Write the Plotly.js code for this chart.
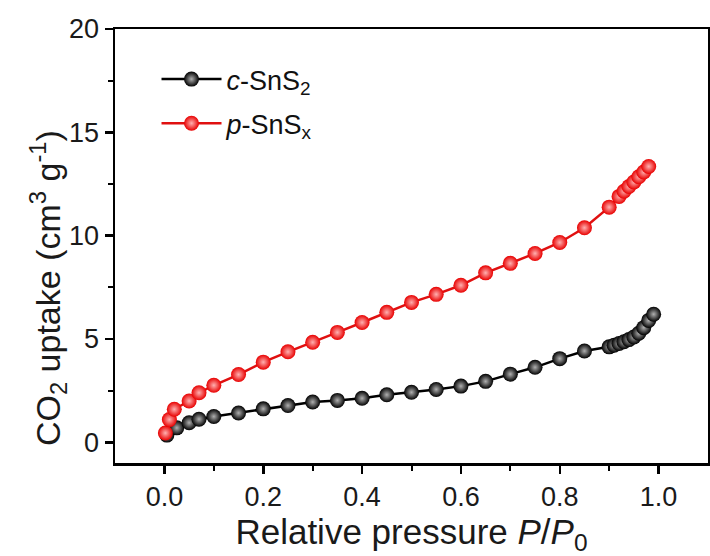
<!DOCTYPE html>
<html>
<head>
<meta charset="utf-8">
<script src="https://cdn.plot.ly/plotly-3.0.1.min.js"></script>
<style>html,body{margin:0;padding:0;background:#fff;}#chart{width:710px;height:556px;}</style>
</head>
<body>
<div id="chart"></div>
<script>
// c-SnS2 (black)
var cX = [0.005, 0.025, 0.05, 0.07, 0.1, 0.15, 0.2, 0.25, 0.3, 0.35, 0.4, 0.45, 0.5, 0.55, 0.6, 0.65, 0.7, 0.75, 0.8, 0.85, 0.9, 0.91, 0.92, 0.93, 0.94, 0.95, 0.96, 0.97, 0.98, 0.99];
var cY = [0.35, 0.7, 0.95, 1.12, 1.25, 1.42, 1.62, 1.78, 1.95, 2.03, 2.13, 2.3, 2.42, 2.56, 2.72, 2.95, 3.3, 3.63, 4.05, 4.42, 4.62, 4.7, 4.78, 4.87, 4.97, 5.1, 5.28, 5.55, 5.9, 6.2];
// p-SnSx (red)
var pX = [0.002, 0.01, 0.02, 0.05, 0.07, 0.1, 0.15, 0.2, 0.25, 0.3, 0.35, 0.4, 0.45, 0.5, 0.55, 0.6, 0.65, 0.7, 0.75, 0.8, 0.85, 0.9, 0.92, 0.93, 0.94, 0.95, 0.96, 0.97, 0.98];
var pY = [0.45, 1.1, 1.6, 2.0, 2.4, 2.76, 3.28, 3.88, 4.38, 4.84, 5.32, 5.8, 6.29, 6.77, 7.16, 7.6, 8.2, 8.66, 9.14, 9.67, 10.38, 11.38, 11.9, 12.15, 12.38, 12.6, 12.85, 13.08, 13.35];

var names = ['<i>c</i>-SnS<sub>2</sub>', '<i>p</i>-SnS<sub>x</sub>'];
var yTitle = 'CO<sub>2</sub> uptake (cm<sup>3</sup> g<sup>-1</sup>)';
var xTitle = 'Relative pressure <i>P</i>/<i>P</i><sub>0</sub>';

var traces = [
  {x: cX, y: cY, name: names[0], legendgroup: 'a', type: 'scatter', mode: 'lines+markers',
   line: {color: '#000000', width: 2.5},
   marker: {size: 15, color: '#000000', gradient: {type: 'radial', color: '#b0b0b0'}, line: {width: 0}}},
  {x: pX, y: pY, name: names[1], legendgroup: 'b', type: 'scatter', mode: 'lines+markers',
   line: {color: '#e01010', width: 2.5},
   marker: {size: 15, color: '#e80000', gradient: {type: 'radial', color: '#ffb0b0'}, line: {width: 0}}}
];

var fam = 'Liberation Sans, Arial, sans-serif';
var tickFont = {family: fam, size: 27, color: '#1a1a1a'};
var layout = {
  width: 710, height: 556,
  margin: {l: 115, r: 2, t: 29, b: 93},
  paper_bgcolor: '#fff', plot_bgcolor: '#fff',
  showlegend: true,
  legend: {x: 0.07, y: 0.94, xanchor: 'left', yanchor: 'top', bgcolor: 'rgba(0,0,0,0)',
           font: {family: fam, size: 27, color: '#111'},
           tracegroupgap: 6, itemwidth: 60},
  xaxis: {range: [-0.1, 1.1], tickvals: [0, 0.2, 0.4, 0.6, 0.8, 1.0], ticktext: ['0.0','0.2','0.4','0.6','0.8','1.0'],
          ticks: 'outside', ticklen: 8, tickwidth: 2.5, tickcolor: '#000',
          minor: {tickvals: [0.1, 0.3, 0.5, 0.7, 0.9], ticks: 'outside', ticklen: 5, tickwidth: 2, tickcolor: '#000'},
          showline: true, linecolor: '#000', linewidth: 2.5, mirror: true, showgrid: false, zeroline: false,
          tickfont: tickFont,
          title: {text: xTitle, font: {family: fam, size: 35, color: '#1a1a1a'}, standoff: 2}},
  yaxis: {range: [-1, 20], tickvals: [0, 5, 10, 15, 20],
          ticks: 'outside', ticklen: 8, tickwidth: 2.5, tickcolor: '#000',
          minor: {tickvals: [2.5, 7.5, 12.5, 17.5], ticks: 'outside', ticklen: 5, tickwidth: 2, tickcolor: '#000'},
          showline: true, linecolor: '#000', linewidth: 2.5, mirror: true, showgrid: false, zeroline: false,
          tickfont: tickFont},
  annotations: [{text: yTitle, xref: 'paper', yref: 'paper', x: -0.113, y: 0.403,
                 xanchor: 'center', yanchor: 'middle', textangle: -90, showarrow: false,
                 font: {family: fam, size: 34, color: '#1a1a1a'}}]
};

Plotly.newPlot('chart', traces, layout, {displayModeBar: false, staticPlot: true});
</script>
</body>
</html>
